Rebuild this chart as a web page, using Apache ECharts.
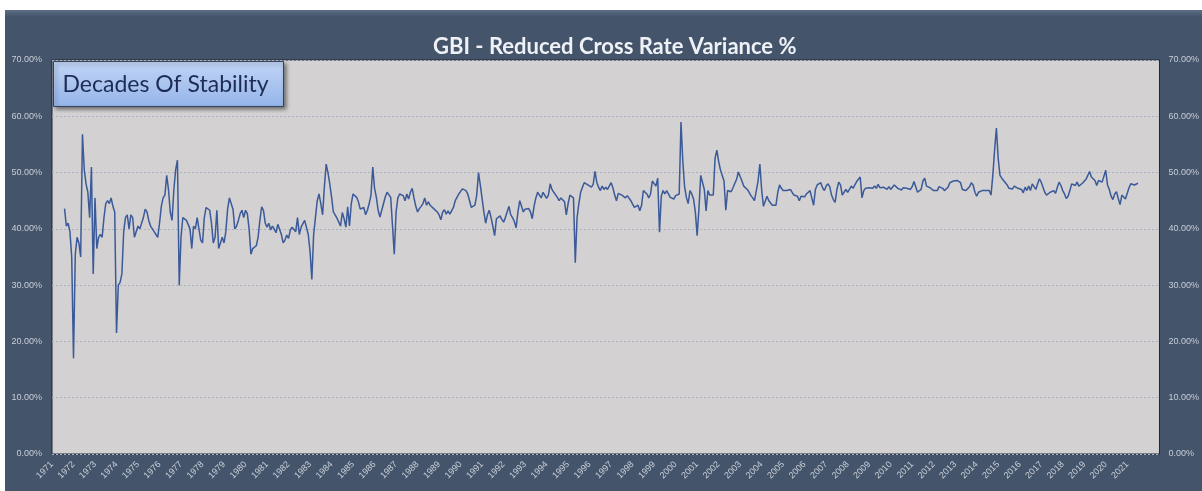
<!DOCTYPE html>
<html>
<head>
<meta charset="utf-8">
<title>GBI - Reduced Cross Rate Variance %</title>
<script src="https://cdn.jsdelivr.net/npm/echarts@6/dist/echarts.min.js"></script>
<style>
  html, body { margin: 0; padding: 0; background: #fff; }
  #chart { position: absolute; left: 5px; top: 10px; width: 1197px; height: 481px; background: #44546a; }
</style>
</head>
<body>
<div id="chart"></div>
<script>
// axis runs Jan 1971 .. Jul 2022, series starts Aug 1971 (monthly)
const axisStart = [1971, 1];
const axisEnd = [2022, 7];
const seriesStart = [1971, 8];

const yearTicks = [1971, 1972, 1973, 1974, 1975, 1976, 1977, 1978, 1979, 1980,
  1981, 1982, 1983, 1984, 1985, 1986, 1987, 1988, 1989, 1990,
  1991, 1992, 1993, 1994, 1995, 1996, 1997, 1998, 1999, 2000,
  2001, 2002, 2003, 2004, 2005, 2006, 2007, 2008, 2009, 2010,
  2011, 2012, 2013, 2014, 2015, 2016, 2017, 2018, 2019, 2020, 2021];

// variance %, one value per month
const rates70s = [43.6, 40.5, 41.0, 39.5, 35.0,
  17.0, 35.5, 38.5, 37.5, 35.0, 56.8, 50.5, 48.0, 46.5, 42.0, 51.0, 32.0,
  45.5, 36.5, 38.5, 39.0, 38.5, 42.0, 44.5, 45.0, 44.5, 45.5, 44.0, 43.0,
  21.5, 30.0, 30.5, 32.0, 39.5, 42.0, 42.5, 40.0, 42.5, 42.0, 38.5, 38.5,
  40.5, 40.0, 41.0, 42.0, 43.5, 43.0, 41.5, 40.5, 40.5, 39.5, 39.0, 38.5,
  41.0, 44.0, 45.5, 46.0, 49.5, 47.0, 43.0, 41.5, 47.0, 50.5, 52.2, 30.0,
  38.5, 42.0, 42.3, 41.5, 40.8, 40.0, 36.5, 40.5, 40.0, 42.0, 42.0, 38.0,
  37.5, 42.0, 43.8, 43.8, 43.3, 41.0, 37.5, 38.5, 43.3, 36.5, 37.5, 38.5,
  37.5, 39.5, 43.5, 45.5, 45.2, 43.5, 40.0, 40.5, 41.5, 42.7, 43.3, 42.0];
const rates80s = [43.3, 42.7, 40.0, 35.5, 36.5, 36.8, 37.0, 38.5, 41.5, 43.9, 43.3, 41.0,
  40.3, 41.0, 39.8, 40.5, 40.0, 39.3, 40.8, 40.9, 39.0, 37.5, 38.0, 38.9,
  38.3, 39.8, 40.3, 40.6, 39.5, 42.0, 39.0, 40.3, 40.0, 41.5, 41.5, 39.0,
  36.0, 31.0, 39.0, 42.0, 45.0, 46.2, 44.5, 42.5, 47.5, 51.5, 50.0, 48.0,
  45.7, 43.0, 42.5, 41.9, 42.2, 40.5, 42.9, 41.8, 40.3, 43.9, 40.5, 44.5,
  46.2, 46.5, 45.6, 44.8, 43.5, 43.3, 43.8, 42.5, 43.3, 44.5, 46.0, 51.0,
  47.2, 45.6, 43.3, 42.1, 43.3, 44.5, 45.7, 46.5, 46.8, 45.6, 40.6, 35.5,
  43.0, 45.5, 46.2, 45.9, 45.9, 45.0, 46.2, 45.3, 46.5, 47.2, 45.5, 44.0,
  43.0, 43.6, 44.0, 44.5, 45.5, 44.2, 44.8, 44.2, 44.3, 43.6, 43.7, 43.0,
  42.5, 41.6, 43.0, 43.4, 42.6, 43.2, 42.6, 43.2, 43.8, 45.0, 45.6, 46.2];
const rates90s = [46.3, 47.1, 47.4, 46.8, 46.2, 45.0, 43.8, 43.5, 44.2, 46.0, 50.0, 47.8,
  45.4, 43.0, 41.0, 42.5, 43.3, 42.0, 40.5, 38.8, 41.8, 42.0, 42.3, 41.7,
  41.2, 42.0, 41.8, 44.0, 42.5, 42.0, 41.3, 40.2, 43.0, 45.0, 44.0, 43.0,
  43.5, 43.3, 43.6, 43.0, 41.8, 44.0, 45.5, 46.5, 46.0, 45.5, 46.5, 46.7,
  45.4, 46.0, 48.0, 47.0, 46.5, 46.2, 45.6, 45.0, 45.5, 45.3, 44.8, 42.5,
  44.5, 46.0, 45.8, 45.5, 34.0, 42.0, 44.5, 46.5, 47.4, 48.2, 48.5, 47.8,
  48.0, 47.4, 47.9, 50.2, 48.3, 47.4, 46.8, 47.6, 47.0, 47.4, 47.0, 47.2,
  48.2, 47.3, 46.0, 45.0, 46.3, 46.0, 46.0, 45.8, 45.5, 45.9, 46.0, 45.0,
  44.4, 43.8, 44.0, 44.2, 43.2, 44.2, 46.8, 47.1, 46.2, 45.5, 46.2, 48.5,
  48.8, 47.6, 49.0, 39.4, 45.8, 46.8, 46.2, 46.8, 46.2, 45.6, 45.9, 45.3];
const rates00s = [45.9, 45.6, 46.2, 59.0, 52.0, 47.5, 45.6, 44.5, 46.8, 46.2, 45.3, 43.0,
  38.8, 43.5, 49.5, 49.6, 47.0, 43.2, 46.8, 46.0, 46.2, 46.0, 52.5, 54.0,
  52.0, 50.5, 50.2, 48.5, 43.3, 46.8, 46.5, 46.6, 47.3, 47.6, 48.8, 50.1,
  49.8, 48.5, 47.6, 47.3, 47.0, 46.5, 45.9, 45.5, 45.0, 45.2, 48.5, 51.5,
  47.0, 44.0, 44.2, 45.8, 45.0, 44.6, 44.2, 43.9, 44.2, 46.5, 47.8, 47.2,
  46.8, 46.9, 46.8, 46.5, 47.0, 46.7, 46.0, 46.0, 45.8, 45.0, 45.8, 46.0,
  45.7, 46.2, 46.0, 46.8, 46.5, 44.2, 47.0, 47.8, 47.5, 48.2, 47.3, 46.8,
  47.6, 48.0, 47.5, 46.0, 45.2, 44.7, 47.0, 48.3, 47.8, 46.0, 46.5, 47.0,
  46.5, 47.0, 47.6, 47.2, 47.5, 48.4, 48.3, 49.2, 45.5, 46.8, 47.2, 47.0,
  47.3, 47.0, 47.2, 47.6, 47.2, 47.9, 47.3, 47.0, 47.4, 47.2, 47.0, 47.5];
const rates10s = [47.0, 47.2, 47.8, 47.6, 47.2, 47.5, 46.9, 47.3, 47.0, 47.2, 46.9, 47.0,
  47.5, 48.4, 48.2, 46.5, 46.2, 47.0, 48.5, 49.0, 47.6, 47.8, 47.3, 47.6,
  46.8, 46.5, 46.8, 47.5, 47.6, 47.2, 46.8, 46.8, 47.4, 48.2, 48.4, 48.5,
  48.6, 48.6, 48.4, 48.2, 47.0, 46.8, 46.8, 47.0, 47.5, 48.2, 47.8, 46.5,
  45.8, 46.5, 46.8, 46.8, 47.0, 46.8, 47.1, 46.8, 46.0, 49.5, 54.0, 57.9,
  52.5, 49.5, 49.0, 48.6, 48.4, 47.8, 47.2, 46.9, 47.1, 47.6, 47.3, 47.2,
  46.9, 47.0, 46.4, 47.4, 46.8, 47.6, 46.8, 48.0, 48.2, 47.0, 48.0, 48.9,
  48.3, 47.4, 46.5, 46.0, 45.8, 46.5, 46.8, 46.8, 46.3, 47.4, 48.3, 47.7,
  46.8, 46.2, 45.4, 45.8, 46.8, 48.0, 48.3, 47.7, 48.3, 47.6, 47.8, 48.1,
  48.3, 48.8, 49.0, 50.2, 49.2, 49.3, 48.6, 47.7, 48.6, 48.9, 48.3, 48.0];
const rates20s = [50.4, 47.8, 47.0, 45.8, 45.2, 46.2, 46.6, 45.4, 44.3, 46.0, 46.3, 45.3,
  45.5, 47.3, 48.0, 48.3, 47.8, 47.5, 48.1];

const rates = [].concat(rates70s, rates80s, rates90s, rates00s, rates10s, rates20s);

// month categories for the x axis
const months = [];
for (let y = axisStart[0]; y <= axisEnd[0]; y++) {
  for (let m = 1; m <= 12; m++) {
    if (y === axisStart[0] && m < axisStart[1]) continue;
    if (y === axisEnd[0] && m > axisEnd[1]) break;
    months.push(y + '-' + String(m).padStart(2, '0'));
  }
}
const offset = (seriesStart[0] - axisStart[0]) * 12 + seriesStart[1] - axisStart[1];
const seriesData = months.map((_, i) => {
  const k = i - offset;
  return k >= 0 && k < rates.length ? rates[k] : null;
});

const labelColor = '#c9cfd8';
const labelFont = 'Liberation Sans';

const chart = echarts.init(document.getElementById('chart'));
chart.setOption({
  animation: false,
  title: {
    text: 'GBI - Reduced Cross Rate Variance %',
    left: 423,
    top: 21,
    textStyle: { color: '#eef1f5', fontSize: 22, fontWeight: 'bold', fontFamily: 'Lato' }
  },
  grid: {
    left: 47, right: 42, top: 50, bottom: 37,
    show: true,
    backgroundColor: '#d3d1d1',
    borderColor: '#1f2734',
    borderWidth: 1
  },
  xAxis: {
    type: 'category',
    data: months,
    boundaryGap: false,
    axisLine: { show: false },
    axisTick: { show: false },
    splitLine: { show: false },
    axisLabel: {
      interval: (idx, val) => val.endsWith('-01') && yearTicks.includes(+val.slice(0, 4)),
      formatter: val => val.slice(0, 4),
      rotate: 45,
      margin: 9,
      color: labelColor,
      fontSize: 9,
      fontFamily: labelFont
    }
  },
  yAxis: [{
    type: 'value',
    min: 0, max: 70, interval: 10,
    axisLine: { show: false },
    axisTick: { show: false },
    axisLabel: {
      formatter: v => v.toFixed(2) + '%',
      margin: 10,
      color: labelColor, fontSize: 9, fontFamily: labelFont
    },
    splitLine: { lineStyle: { color: '#a9b2c3', type: [2, 2], width: 1 } }
  }, {
    type: 'value',
    position: 'right',
    min: 0, max: 70, interval: 10,
    axisLine: { show: false },
    axisTick: { show: false },
    axisLabel: {
      formatter: v => v.toFixed(2) + '%',
      margin: 9,
      color: labelColor, fontSize: 9, fontFamily: labelFont
    },
    splitLine: { show: false }
  }],
  series: [{
    type: 'line',
    data: seriesData,
    showSymbol: false,
    connectNulls: false,
    lineStyle: { color: '#3b5a99', width: 1.5 }
  }],
  graphic: [{
    type: 'rect',
    left: 0, top: 0, z: -1,
    shape: { width: 1197, height: 7 },
    style: {
      fill: new echarts.graphic.LinearGradient(0, 0, 0, 1, [
        { offset: 0, color: '#5d6d85' }, { offset: 1, color: '#44546a' }
      ])
    }
  }, {
    type: 'group',
    left: 48, top: 51, z: 100,
    children: [{
      type: 'rect',
      shape: { width: 230, height: 45 },
      style: {
        fill: new echarts.graphic.LinearGradient(0, 0, 0, 1, [
          { offset: 0, color: '#c2d5f5' }, { offset: 1, color: '#94b4ea' }
        ]),
        stroke: '#33435c',
        lineWidth: 1,
        shadowBlur: 4,
        shadowOffsetX: 2,
        shadowOffsetY: 2,
        shadowColor: 'rgba(0,0,0,0.45)'
      }
    }, {
      type: 'text',
      x: 9, y: 23,
      style: {
        text: 'Decades Of Stability',
        font: '23px Lato',
        fill: '#1d2c55',
        verticalAlign: 'middle'
      }
    }]
  }]
});
</script>
</body>
</html>
